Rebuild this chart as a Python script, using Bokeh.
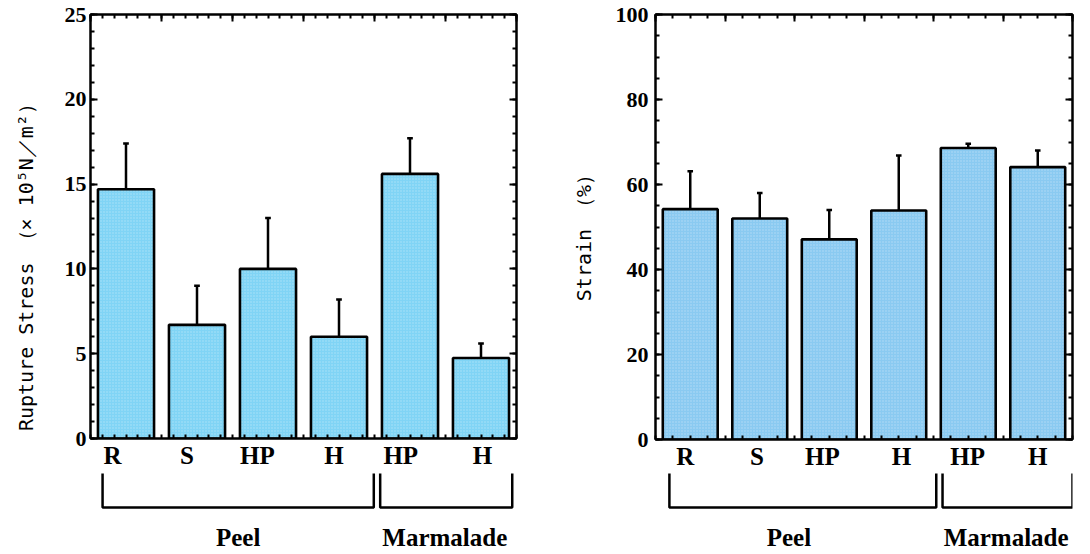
from bokeh.plotting import figure
from bokeh.models import Range1d, LinearAxis, FixedTicker, ColumnDataSource
from bokeh.layouts import row, column
from bokeh.embed import file_html
from bokeh.resources import INLINE
from bokeh.core.properties import value

# ---------------- data ----------------
categories = ["R", "S", "HP", "H", "HP", "H"]
group_names = ["Peel", "Marmalade"]
group_sizes = [4, 2]

stress = [14.7, 6.7, 10.0, 6.0, 15.6, 4.75]
stress_err = [2.7, 2.3, 3.0, 2.2, 2.1, 0.85]

strain = [54.2, 52.0, 47.1, 53.9, 68.6, 64.1]
strain_err = [8.9, 6.0, 6.9, 12.9, 1.0, 3.9]

stress_label = "Rupture Stress （× 10⁵N／m²）"
strain_label = "Strain （%）"

# ---------------- style ----------------
SERIF = "Liberation Serif"
MONO = "DejaVu Sans Mono"
CHART_H = 472
BRACKET_H = 82
NBSP = "\u00a0"


def axis_style(ax, labels=True):
    ax.axis_line_width = 2
    ax.axis_line_color = "black"
    ax.major_tick_in = 7
    ax.major_tick_out = 0
    ax.minor_tick_in = 4
    ax.minor_tick_out = 0
    ax.major_tick_line_width = 2
    ax.minor_tick_line_width = 2
    ax.major_label_text_font = SERIF
    ax.major_label_text_font_style = "bold"
    ax.major_label_text_color = "black"
    if not labels:
        ax.major_label_standoff = 0
        ax.major_label_text_font_size = "1px"


def make_chart(values, errors, y_max, y_major, y_minor, x_minor_per, width,
               b_left, b_right, b_bottom, fill, ylabel, label_pad, label_standoff,
               tick_standoff, cat_shift):
    n = len(categories)
    p = figure(width=width, height=CHART_H, x_range=Range1d(0, n), y_range=Range1d(0, y_max),
               output_backend="svg", toolbar_location=None,
               min_border_left=b_left, min_border_right=b_right,
               min_border_top=14, min_border_bottom=b_bottom,
               x_axis_type=None, y_axis_type=None)
    p.outline_line_color = "black"
    p.outline_line_width = 2
    p.background_fill_color = "white"
    p.border_fill_color = "white"

    centers = [i + 0.5 for i in range(n)]
    cap = 0.04
    src = ColumnDataSource(dict(
        x=centers, top=values,
        etop=[v + e for v, e in zip(values, errors)],
        xl=[c - cap for c in centers], xr=[c + cap for c in centers],
    ))
    p.segment(x0="x", y0="top", x1="x", y1="etop", source=src, line_color="black", line_width=2.5)
    p.segment(x0="xl", y0="etop", x1="xr", y1="etop", source=src, line_color="black", line_width=2.5)
    p.vbar(x="x", top="top", bottom=0, width=0.79, source=src, fill_color=fill,
           line_color="black", line_width=2.6,
           hatch_pattern=".", hatch_color="white", hatch_alpha=0.35, hatch_scale=3, hatch_weight=1)

    yt = list(range(0, y_max + 1, y_major))
    ym = list(range(0, y_max + 1, y_minor))
    left = LinearAxis(ticker=FixedTicker(ticks=yt, minor_ticks=ym))
    axis_style(left)
    left.major_label_text_font_size = "22px"
    left.major_label_standoff = tick_standoff
    # trailing non-breaking spaces shift the visible title down along the axis
    left.axis_label = ylabel + NBSP * label_pad
    left.axis_label_text_font = MONO
    left.axis_label_text_font_size = "20px"
    left.axis_label_text_font_style = "normal"
    left.axis_label_text_color = "black"
    left.axis_label_standoff = label_standoff
    p.add_layout(left, "left")

    right = LinearAxis(ticker=FixedTicker(ticks=yt, minor_ticks=ym),
                       major_label_overrides={t: "" for t in yt})
    axis_style(right, labels=False)
    p.add_layout(right, "right")

    xminor = [k / x_minor_per for k in range(n * x_minor_per + 1)]
    label_pos = [c + s for c, s in zip(centers, cat_shift)]
    bottom = LinearAxis(ticker=FixedTicker(ticks=label_pos, minor_ticks=xminor),
                        major_label_overrides={c: lab for c, lab in zip(label_pos, categories)})
    axis_style(bottom)
    bottom.major_tick_in = 0
    bottom.major_label_text_font_size = "25px"
    bottom.major_label_standoff = 3
    p.add_layout(bottom, "below")

    bounds = list(range(0, n + 1))
    top = LinearAxis(ticker=FixedTicker(ticks=bounds, minor_ticks=xminor),
                     major_label_overrides={b: "" for b in bounds})
    axis_style(top, labels=False)
    p.add_layout(top, "above")
    return p


def make_brackets(width, b_left, b_right, insets, text_shift):
    n = len(categories)
    b = figure(width=width, height=BRACKET_H,
               x_range=Range1d(0, n), y_range=Range1d(BRACKET_H, 0),
               output_backend="svg", toolbar_location=None,
               min_border_left=b_left, min_border_right=b_right,
               min_border_top=0, min_border_bottom=0,
               x_axis_type=None, y_axis_type=None)
    b.outline_line_color = None
    xs, ys, cx = [], [], []
    start = 0
    for size, inset, ts in zip(group_sizes, insets, text_shift):
        s = start + inset[0]
        e = start + size - inset[1]
        xs.append([s, s, e, e])
        ys.append([1, 35, 35, 1])
        cx.append((s + e) / 2 + ts)
        start += size
    b.multi_line(xs=xs, ys=ys, line_color="black", line_width=2.5)
    b.text(x=cx, y=[65] * len(cx), text=group_names, text_font=value(SERIF),
           text_font_style="bold", text_font_size="25px", text_align="center",
           text_baseline="middle", text_color="black")
    return b


p1 = make_chart(stress, stress_err, 25, 5, 1, 6, 560, 90, 44, 34, "#80d4f5", stress_label, 6, 24, 4,
                [-0.19, -0.14, -0.15, -0.07, -0.13, 0.02])
b1 = make_brackets(560, 90, 44, [(0.17, 0.01), (0.08, 0.06)], [0.0, -0.02])
p2 = make_chart(strain, strain_err, 100, 20, 5, 4, 530, 95, 18, 33, "#8acaf1", strain_label, 1, 17, 7,
                [-0.07, -0.04, -0.1, 0.04, -0.01, 0.0])
b2 = make_brackets(530, 95, 18, [(0.2, -0.04), (0.13, 0.0)], [-0.2, -0.02])

layout = row(column(p1, b1), column(p2, b2))
open("out.html", "w").write(file_html(layout, INLINE))
